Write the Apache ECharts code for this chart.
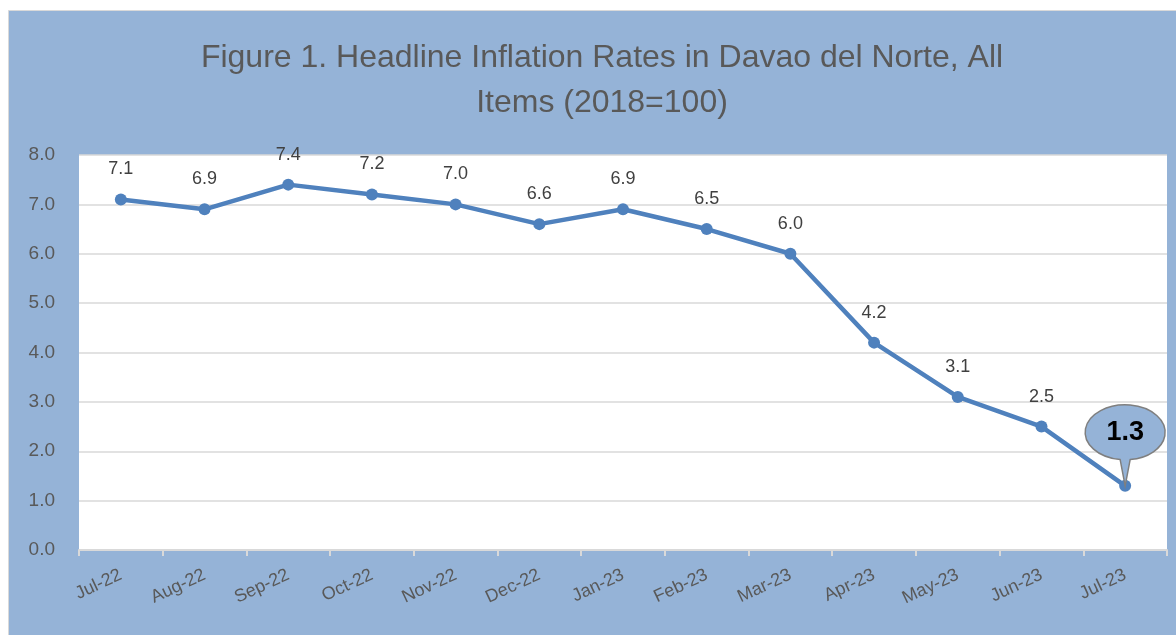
<!DOCTYPE html>
<html>
<head>
<meta charset="UTF-8">
<title>Headline Inflation Rates in Davao del Norte</title>
<script src="https://cdnjs.cloudflare.com/ajax/libs/echarts/6.0.0/echarts.min.js"></script>
<style>
	html, body { margin: 0; padding: 0; background: #fff; }
</style>
</head>
<body>
	<div id="main" style="width: 1176px; height: 635px;"></div>

	<script type="text/javascript">
		var months = ['Jul-22', 'Aug-22', 'Sep-22', 'Oct-22', 'Nov-22', 'Dec-22', 'Jan-23',
			'Feb-23', 'Mar-23', 'Apr-23', 'May-23', 'Jun-23', 'Jul-23'];
		var rates = [7.1, 6.9, 7.4, 7.2, 7.0, 6.6, 6.9, 6.5, 6.0, 4.2, 3.1, 2.5, 1.3];
		var yTicks = [0, 1, 2, 3, 4, 5, 6, 7, 8];

		var lastIdx = rates.length - 1;
		// last point gets the callout bubble instead of a plain label
		var seriesData = rates.map(function (v, i) {
			return i === lastIdx ? { value: v, label: { show: false } } : v;
		});

		var bubble = 'path://M40 81 L35 54.8 A40 27.5 0 1 1 45 54.8 Z';

		var myChart = echarts.init(document.getElementById('main'));
		myChart.setOption({
			backgroundColor: '#ffffff',
			animation: false,
			textStyle: { fontFamily: 'Liberation Sans' },
			graphic: [
				{
					type: 'rect',
					z: -10,
					shape: { x: 8.5, y: 10.5, width: 1180, height: 640 },
					style: { fill: '#95B3D7', stroke: '#d9d9d9', lineWidth: 1 }
				},
				{
					type: 'text',
					x: 602,
					y: 36,
					style: {
						text: 'Figure 1. Headline Inflation Rates in Davao del Norte, All\nItems (2018=100)',
						fill: '#595959',
						font: '32px "Liberation Sans"',
						textAlign: 'center',
						lineHeight: 45
					}
				}
			],
			grid: {
				left: 79,
				right: 9,
				top: 155,
				bottom: 85,
				show: true,
				backgroundColor: '#ffffff',
				borderWidth: 0
			},
			xAxis: {
				type: 'category',
				data: months,
				boundaryGap: true,
				axisLine: { lineStyle: { color: '#d9d9d9', width: 2 } },
				axisTick: { show: true, length: 6, lineStyle: { color: '#d9d9d9', width: 2 } },
				axisLabel: {
					rotate: 25,
					color: '#595959',
					fontSize: 18,
					margin: 24
				}
			},
			yAxis: {
				type: 'value',
				min: yTicks[0],
				max: yTicks[yTicks.length - 1],
				interval: 1,
				axisLine: { show: false },
				axisTick: { show: false },
				splitLine: { lineStyle: { color: '#d9d9d9', width: 1.5 } },
				axisLabel: {
					color: '#595959',
					fontSize: 19,
					margin: 24,
					formatter: function (v) { return v.toFixed(1); }
				}
			},
			series: [{
				name: 'Headline Inflation',
				type: 'line',
				data: seriesData,
				symbol: 'circle',
				symbolSize: 12,
				lineStyle: { color: '#4F81BD', width: 4.5 },
				itemStyle: { color: '#4F81BD' },
				label: {
					show: true,
					position: 'top',
					distance: 15,
					color: '#404040',
					fontSize: 18,
					formatter: function (p) { return p.value.toFixed(1); }
				},
				markPoint: {
					symbol: bubble,
					symbolSize: [80, 81],
					symbolOffset: [0, -40.5],
					symbolKeepAspect: false,
					itemStyle: { color: '#95B3D7', borderColor: '#7f7f7f', borderWidth: 1.5 },
					label: {
						show: true,
						offset: [0, -13],
						color: '#000000',
						fontSize: 27,
						fontWeight: 'bold',
						formatter: function (p) { return p.value.toFixed(1); }
					},
					data: [{ coord: [months[lastIdx], rates[lastIdx]], value: rates[lastIdx] }]
				}
			}]
		});
	</script>
</body>
</html>
